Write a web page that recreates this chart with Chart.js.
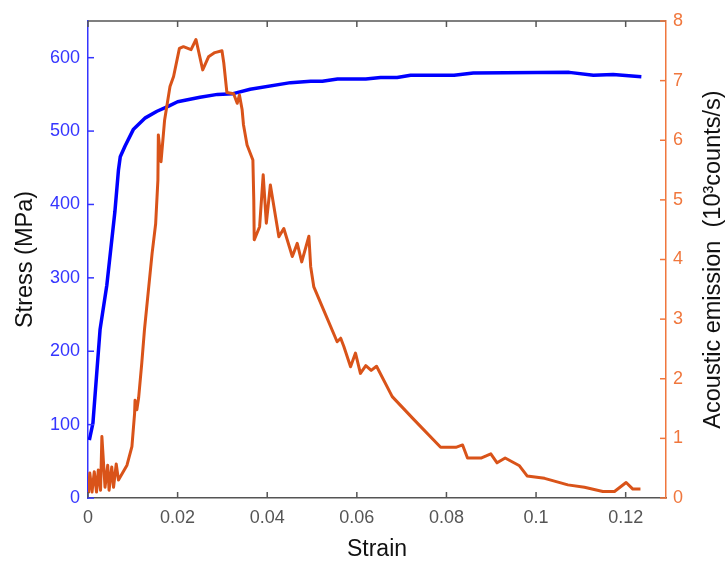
<!DOCTYPE html>
<html>
<head>
<meta charset="utf-8">
<script src="https://cdn.jsdelivr.net/npm/chart.js@4"></script>
<style>
  body { margin: 0; background: #fff; }
  #wrap { width: 725px; height: 561px; }
</style>
</head>
<body>
<div id="wrap"><canvas id="chart"></canvas></div>
<script>
// stress-strain curve (left axis, MPa)
const stressStrain = [0.0003, 0.0011, 0.0027, 0.0042, 0.0060, 0.0068, 0.0072, 0.0083, 0.0101, 0.0128,
    0.0154, 0.0180, 0.0200, 0.0250, 0.0289, 0.0324, 0.0362, 0.0452, 0.0497, 0.0523,
    0.0557, 0.0620, 0.0653, 0.0690, 0.0720, 0.0817, 0.0860, 0.1074, 0.1128, 0.1172, 0.1235];
const stressValues = [79, 102, 230, 290, 390, 447, 465, 480, 502, 518,
    527, 534, 540, 546, 550, 551, 557, 566, 568, 568,
    571, 571, 573, 573, 576, 576, 579, 580, 576, 577, 574];

// acoustic emission (right axis, 10^3 counts/s)
const aeStrain = [0.0001, 0.0004, 0.0009, 0.0014, 0.0019, 0.0023, 0.0028, 0.0031, 0.0038, 0.0044,
    0.0047, 0.0053, 0.0057, 0.0063, 0.0068, 0.0087, 0.0098, 0.0104, 0.0105, 0.0109,
    0.0113, 0.0120, 0.0126, 0.0143, 0.0151, 0.0156, 0.0157, 0.0163, 0.0171, 0.0183,
    0.0191, 0.0204, 0.0213, 0.0230, 0.0241, 0.0256, 0.0269, 0.0283, 0.0299, 0.0303,
    0.0310, 0.0325, 0.0333, 0.0338, 0.0344, 0.0347, 0.0355, 0.0368, 0.0370, 0.0371,
    0.0383, 0.0391, 0.0398, 0.0407, 0.0426, 0.0437, 0.0456, 0.0467, 0.0477, 0.0493,
    0.0497, 0.0504, 0.0526, 0.0556, 0.0564, 0.0571, 0.0586, 0.0597, 0.0608, 0.0620,
    0.0632, 0.0644, 0.0679, 0.0728, 0.0787, 0.0821, 0.0836, 0.0847, 0.0877, 0.0899,
    0.0913, 0.0931, 0.0963, 0.0980, 0.1019, 0.1071, 0.1108, 0.1149, 0.1175, 0.1201,
    0.1216, 0.1233];
const aeValues = [0.08, 0.42, 0.10, 0.44, 0.10, 0.47, 0.13, 1.03, 0.18, 0.55,
    0.13, 0.52, 0.18, 0.57, 0.30, 0.55, 0.86, 1.42, 1.64, 1.48,
    1.68, 2.26, 2.82, 4.10, 4.60, 5.33, 6.09, 5.64, 6.34, 6.90,
    7.07, 7.54, 7.57, 7.52, 7.69, 7.18, 7.40, 7.47, 7.50, 7.30,
    6.80, 6.78, 6.62, 6.76, 6.51, 6.26, 5.92, 5.67, 5.00, 4.33,
    4.55, 5.42, 4.61, 5.25, 4.38, 4.52, 4.05, 4.27, 3.96, 4.39,
    3.88, 3.54, 3.15, 2.62, 2.68, 2.54, 2.20, 2.43, 2.09, 2.22,
    2.14, 2.21, 1.70, 1.31, 0.85, 0.85, 0.89, 0.67, 0.67, 0.74,
    0.59, 0.67, 0.54, 0.37, 0.33, 0.22, 0.18, 0.11, 0.11, 0.26,
    0.15, 0.15];

const xTicks = [0, 0.02, 0.04, 0.06, 0.08, 0.1, 0.12];
const stressTicks = [0, 100, 200, 300, 400, 500, 600];
const aeTicks = [0, 1, 2, 3, 4, 5, 6, 7, 8];

const BLUE = "#0000ff";
const BLUE_TEXT = "#3535ff";
const ORANGE = "#d95319";
const ORANGE_AXIS = "#f0773d";
const GREY = "#555555";

function pairs(xs, ys) {
    return xs.map((x, i) => ({ x: x, y: ys[i] }));
}

function keepTicks(list) {
    return scale => {
        scale.ticks = list.map(v => ({ value: v }));
    };
}

/* ---------- inward tick marks + top frame + right title ---------- */
const frame = {
    id: "frame",
    afterDraw(chart) {
        let ctx = chart.ctx;
        let a = chart.chartArea;
        let sx = chart.scales.x, sy = chart.scales.y, sy1 = chart.scales.y1;
        let len = 6;
        ctx.save();
        ctx.lineWidth = 1.5;

        // top frame line
        ctx.strokeStyle = GREY;
        ctx.beginPath();
        ctx.moveTo(a.left, a.top);
        ctx.lineTo(a.right, a.top);
        ctx.stroke();

        sx.ticks.forEach(t => {
            let px = sx.getPixelForValue(t.value);
            ctx.beginPath();
            ctx.moveTo(px, a.bottom); ctx.lineTo(px, a.bottom - len);
            ctx.moveTo(px, a.top); ctx.lineTo(px, a.top + len);
            ctx.stroke();
        });

        ctx.strokeStyle = BLUE_TEXT;
        sy.ticks.forEach(t => {
            let py = sy.getPixelForValue(t.value);
            ctx.beginPath();
            ctx.moveTo(a.left, py); ctx.lineTo(a.left + len, py);
            ctx.stroke();
        });

        ctx.strokeStyle = ORANGE_AXIS;
        sy1.ticks.forEach(t => {
            let py = sy1.getPixelForValue(t.value);
            ctx.beginPath();
            ctx.moveTo(a.right, py); ctx.lineTo(a.right - len, py);
            ctx.stroke();
        });

        // right axis title, reading bottom to top
        ctx.translate(714, (a.top + a.bottom) / 2);
        ctx.rotate(-Math.PI / 2);
        ctx.fillStyle = "#111";
        ctx.font = "23.5px 'Liberation Sans', Arial, sans-serif";
        ctx.textAlign = "center";
        ctx.textBaseline = "middle";
        ctx.fillText("Acoustic emission  (10³counts/s)", 0, 0);
        ctx.restore();
    }
};

Chart.defaults.font.family = "'Liberation Sans', Arial, sans-serif";

new Chart(document.getElementById("chart"), {
    type: "line",
    data: {
        datasets: [
            {
                label: "Acoustic emission",
                data: pairs(aeStrain, aeValues),
                yAxisID: "y1",
                borderColor: ORANGE,
                borderWidth: 3,
                borderJoinStyle: "round",
                pointRadius: 0,
                tension: 0
            },
            {
                label: "Stress",
                data: pairs(stressStrain, stressValues),
                yAxisID: "y",
                borderColor: BLUE,
                borderWidth: 3.5,
                borderJoinStyle: "round",
                pointRadius: 0,
                tension: 0
            }
        ]
    },
    options: {
        responsive: true,
        maintainAspectRatio: false,
        animation: false,
        layout: { padding: { top: 21, left: 0, right: 0, bottom: 0 } },
        plugins: {
            legend: { display: false },
            tooltip: { enabled: false }
        },
        scales: {
            x: {
                type: "linear",
                min: 0,
                max: 0.129,
                afterBuildTicks: keepTicks(xTicks),
                afterFit: s => { s.height = 63; },
                grid: { display: false, drawTicks: false },
                border: { color: GREY, width: 1.5 },
                ticks: {
                    color: GREY,
                    font: { size: 18 },
                    padding: 9,
                    callback: v => String(Number(v.toFixed(2)))
                },
                title: {
                    display: true,
                    text: "Strain",
                    color: "#111",
                    font: { size: 23, lineHeight: 1 },
                    padding: { top: 0, bottom: 0 }
                }
            },
            y: {
                position: "left",
                min: 0,
                max: 650,
                afterBuildTicks: keepTicks(stressTicks),
                afterFit: s => { s.width = 88; },
                grid: { display: false, drawTicks: false },
                border: { color: BLUE_TEXT, width: 1.5 },
                ticks: { color: BLUE_TEXT, font: { size: 18 }, padding: 8 },
                title: {
                    display: true,
                    text: "Stress (MPa)",
                    color: "#111",
                    font: { size: 23.5, lineHeight: 1 },
                    padding: { top: 14, bottom: 14 }
                }
            },
            y1: {
                position: "right",
                min: 0,
                max: 8,
                afterBuildTicks: keepTicks(aeTicks),
                afterFit: s => { s.width = 59; },
                grid: { display: false, drawTicks: false },
                border: { color: ORANGE_AXIS, width: 1.5 },
                ticks: { color: ORANGE_AXIS, font: { size: 18 }, padding: 7 }
            }
        }
    },
    plugins: [frame]
});
</script>
</body>
</html>
